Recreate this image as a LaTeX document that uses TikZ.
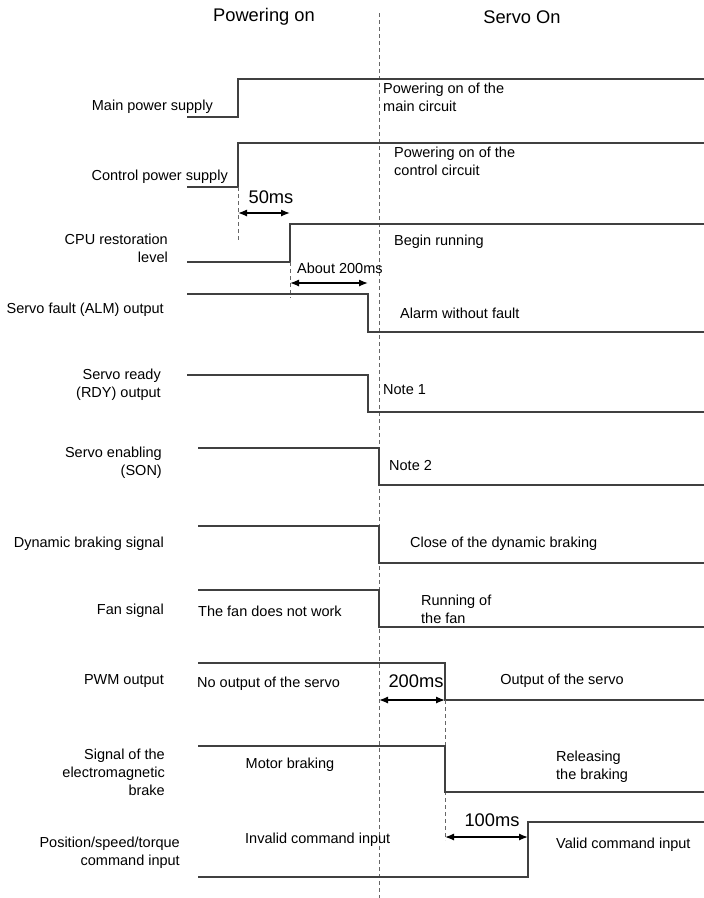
\documentclass[tikz,border=0pt]{standalone}
\usepackage{fontspec}
\setmainfont{Liberation Sans}
\usetikzlibrary{arrows.meta}
\begin{document}
\begin{tikzpicture}[x=1pt,y=-1pt,
  sig/.style={line width=1.2pt, draw=black!75, line join=miter},
  guide/.style={draw=black!60, line width=0.7pt, dash pattern=on 4pt off 3pt},
  lbl/.style={font=\fontsize{14.5}{18}\selectfont, inner sep=0pt, align=right, anchor=east},
  txt/.style={font=\fontsize{14.5}{18}\selectfont, inner sep=0pt, align=left, anchor=west},
  big/.style={font=\fontsize{18.3}{22}\selectfont, inner sep=0pt},
  dimarrow/.style={line width=1.3pt, {Latex[length=9pt,width=7pt]}-{Latex[length=9pt,width=7pt]}}]
\useasboundingbox (0,0) rectangle (704,898);

% titles
\node[big] (t1) at (264,17) {Powering on};
\node[big] (t2) at (522,17) {Servo On};

% main guide line
\coordinate (gTop) at (379,13);
\coordinate (gBot) at (379,898);
\draw[guide] (gTop) -- (gBot);

% Main power supply
\coordinate (m0) at (187,117); \coordinate (m1) at (238,117);
\coordinate (m2) at (238,79);  \coordinate (m3) at (704,79);
\draw[sig] (m0) -- (m1) -- (m2) -- (m3);
\node[lbl] (lm) at (213,107) {Main power supply};
\node[txt] (tm) at (383,97.5) {Powering on of the\\main circuit};

% Control power supply
\coordinate (c0) at (187,187); \coordinate (c1) at (238,187);
\coordinate (c2) at (238,143); \coordinate (c3) at (704,143);
\draw[sig] (c0) -- (c1) -- (c2) -- (c3);
\node[lbl] (lc) at (228,177) {Control power supply};
\node[txt] (tc) at (394,161.5) {Powering on of the\\control circuit};

% 50ms
\coordinate (g1a) at (238,187); \coordinate (g1b) at (238,240);
\draw[guide] (g1a) -- (g1b);
\node[big] (d50) at (271,197) {50ms};
\coordinate (a50l) at (238,213); \coordinate (a50r) at (290,213);
\draw[dimarrow] (a50l) -- (a50r);

% CPU restoration level
\coordinate (p0) at (187,262); \coordinate (p1) at (290,262);
\coordinate (p2) at (290,224); \coordinate (p3) at (704,224);
\draw[sig] (p0) -- (p1) -- (p2) -- (p3);
\node[lbl] (lp) at (168,248) {CPU restoration\\level};
\node[txt] (tp) at (394,242) {Begin running};

% About 200ms
\coordinate (g2a) at (290,262); \coordinate (g2b) at (290,298);
\draw[guide] (g2a) -- (g2b);
\node[txt] (d200a) at (297,268) {About 200ms};
\coordinate (a2l) at (290,283); \coordinate (a2r) at (368,283);
\draw[dimarrow] (a2l) -- (a2r);

% Servo fault (ALM)
\coordinate (a0) at (187,294); \coordinate (a1) at (368,294);
\coordinate (a2) at (368,332); \coordinate (a3) at (704,332);
\draw[sig] (a0) -- (a1) -- (a2) -- (a3);
\node[lbl] (la) at (164,310) {Servo fault (ALM) output};
\node[txt] (ta) at (400,313) {Alarm without fault};

% Servo ready (RDY)
\coordinate (r0) at (187,375); \coordinate (r1) at (368,375);
\coordinate (r2) at (368,412); \coordinate (r3) at (704,412);
\draw[sig] (r0) -- (r1) -- (r2) -- (r3);
\node[lbl] (lr) at (161,385) {Servo ready\\(RDY) output};
\node[txt] (tr) at (383,390) {Note 1};

% Servo enabling (SON)
\coordinate (s0) at (198,448); \coordinate (s1) at (379,448);
\coordinate (s2) at (379,485); \coordinate (s3) at (704,485);
\draw[sig] (s0) -- (s1) -- (s2) -- (s3);
\node[lbl] (ls) at (162,463) {Servo enabling\\(SON)};
\node[txt] (ts) at (389,465) {Note 2};

% Dynamic braking
\coordinate (d0) at (198,526); \coordinate (d1) at (379,526);
\coordinate (d2) at (379,563); \coordinate (d3) at (704,563);
\draw[sig] (d0) -- (d1) -- (d2) -- (d3);
\node[lbl] (ld) at (164,544) {Dynamic braking signal};
\node[txt] (td) at (410,544) {Close of the dynamic braking};

% Fan signal
\coordinate (f0) at (198,590); \coordinate (f1) at (379,590);
\coordinate (f2) at (379,627); \coordinate (f3) at (704,627);
\draw[sig] (f0) -- (f1) -- (f2) -- (f3);
\node[lbl] (lf) at (164,611) {Fan signal};
\node[txt] (tf1) at (198,611) {The fan does not work};
\node[txt] (tf2) at (421,609) {Running of\\the fan};

% PWM output
\coordinate (w0) at (198,663); \coordinate (w1) at (445,663);
\coordinate (w2) at (445,700); \coordinate (w3) at (704,700);
\draw[sig] (w0) -- (w1) -- (w2) -- (w3);
\node[lbl] (lw) at (164,681) {PWM output};
\node[txt] (tw1) at (197,684) {No output of the servo};
\node[big] (d200) at (416,681) {200ms};
\coordinate (a3l) at (379,700); \coordinate (a3r) at (445,700);
\draw[dimarrow] (a3l) -- (a3r);
\node[font=\fontsize{14.5}{18}\selectfont, inner sep=0pt] (tw2) at (562,681) {Output of the servo};
\coordinate (g3a) at (445,700); \coordinate (g3b) at (445,840);
\draw[guide] (g3a) -- (g3b);

% Electromagnetic brake
\coordinate (b0) at (198,746); \coordinate (b1) at (445,746);
\coordinate (b2) at (445,792); \coordinate (b3) at (704,792);
\draw[sig] (b0) -- (b1) -- (b2) -- (b3);
\node[lbl] (lb) at (165,772) {Signal of the\\electromagnetic\\brake};
\node[font=\fontsize{14.5}{18}\selectfont, inner sep=0pt] (tb1) at (290,765) {Motor braking};
\node[txt] (tb2) at (556,767) {Releasing\\the braking};

% Command input
\node[big] (d100) at (492,820) {100ms};
\coordinate (a4l) at (445,837); \coordinate (a4r) at (528,837);
\draw[dimarrow] (a4l) -- (a4r);
\coordinate (q0) at (198,877); \coordinate (q1) at (528,877);
\coordinate (q2) at (528,822); \coordinate (q3) at (704,822);
\draw[sig] (q0) -- (q1) -- (q2) -- (q3);
\node[lbl] (lq) at (180,853) {Position/speed/torque\\command input};
\node[txt] (tq1) at (245,840) {Invalid command input};
\node[txt] (tq2) at (556,845) {Valid command input};
\end{tikzpicture}
\end{document}
